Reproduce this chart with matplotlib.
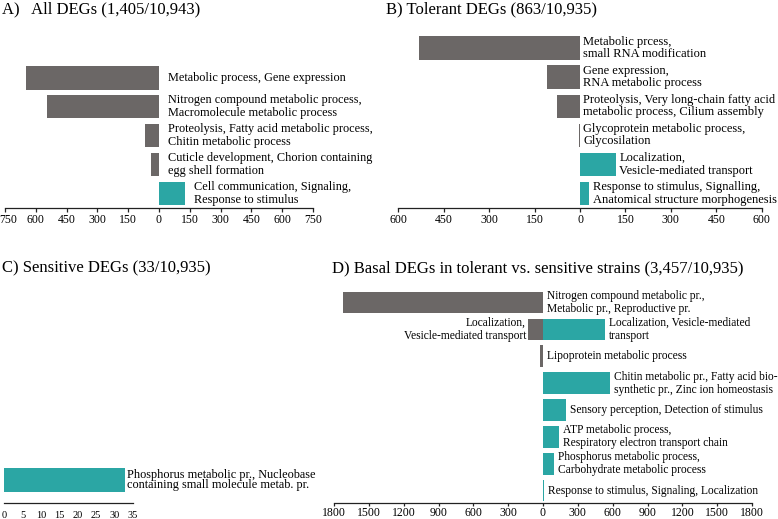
import matplotlib
matplotlib.use('Agg')
import numpy as np
import matplotlib.pyplot as plt
from matplotlib.transforms import ScaledTranslation

plt.rcParams['font.family'] = ['Liberation Serif', 'DejaVu Serif']

GREY = '#6b6766'
TEAL = '#2ba6a4'

# A) all DEGs
a_labels = ['Metabolic process, Gene expression',
            'Nitrogen compound metabolic process,\nMacromolecule metabolic process',
            'Proteolysis, Fatty acid metabolic process,\nChitin metabolic process',
            'Cuticle development, Chorion containing\negg shell formation',
            'Cell communication, Signaling,\nResponse to stimulus']
a_values = [-650, -545, -70, -40, 125]
a_ticks = [-750, -600, -450, -300, -150, 0, 150, 300, 450, 600, 750]

# B) tolerant DEGs
b_labels = ['Metabolic prcess,\nsmall RNA modification',
            'Gene expression,\nRNA metabolic process',
            'Proteolysis, Very long-chain fatty acid\nmetabolic process, Cilium assembly',
            'Glycoprotein metabolic process,\nGlycosilation',
            'Localization,\nVesicle-mediated transport',
            'Response to stimulus, Signalling,\nAnatomical structure morphogenesis']
b_values = [-533, -108, -77, -2, 118, 31]
b_ticks = [-600, -450, -300, -150, 0, 150, 300, 450, 600]

# C) sensitive DEGs
c_labels = ['Phosphorus metabolic pr., Nucleobase\ncontaining small molecule metab. pr.']
c_values = [33]
c_ticks = [0, 5, 10, 15, 20, 25, 30, 35]

# D) basal DEGs, tolerant vs sensitive
d_labels = ['Nitrogen compound metabolic pr.,\nMetabolic pr., Reproductive pr.',
            'Localization, Vesicle-mediated\ntransport',
            'Lipoprotein metabolic process',
            'Chitin metabolic pr., Fatty acid bio-\nsynthetic pr., Zinc ion homeostasis',
            'Sensory perception, Detection of stimulus',
            'ATP metabolic process,\nRespiratory electron transport chain',
            'Phosphorus metabolic process,\nCarbohydrate metabolic process',
            'Response to stimulus, Signaling, Localization']
d_left_labels = ['', 'Localization,\nVesicle-mediated transport', '', '', '', '', '', '']
d_down = [-1720, -127, -23, 0, 0, 0, 0, 0]
d_up = [0, 535, 0, 575, 196, 135, 92, 9]
d_ticks = [-1800, -1500, -1200, -900, -600, -300, 0, 300, 600, 900, 1200, 1500, 1800]

W, H = 778, 519
fig = plt.figure(figsize=(W / 100, H / 100), dpi=100)


def px_axes(left, right, top, bottom):
    return fig.add_axes([left / W, 1 - bottom / H, (right - left) / W, (bottom - top) / H])


def style(ax, ticks, lim, fs=8.5, ticklen=3, pad=1.5):
    ax.set_xlim(lim)
    ax.set_xticks(ticks)
    ax.set_xticklabels([str(abs(t)) for t in ticks], fontsize=fs)
    ax.set_yticks([])
    for s in ['top', 'left', 'right']:
        ax.spines[s].set_visible(False)
    ax.spines['bottom'].set_color('#222222')
    ax.spines['bottom'].set_linewidth(0.9)
    ax.tick_params(axis='x', length=ticklen, width=0.9, pad=pad, color='#222222')
    ax.patch.set_alpha(0)


def simple_panel(ax, labels, values, off, fs=8.8, ls=1.1):
    y = np.arange(len(values))
    cols = [GREY if v < 0 else TEAL for v in values]
    ax.barh(y, values, height=0.8, color=cols)
    for yi, v, lab in zip(y, values, labels):
        ax.annotate(lab, (max(v, 0), yi), xytext=(off, 0), textcoords='offset points',
                    ha='left', va='center', fontsize=fs, linespacing=ls)


# A
axA = px_axes(5, 313, 63.5, 208)
simple_panel(axA, a_labels, a_values, 6.5)
axA.set_ylim(len(a_values) - 0.5, -0.5)
style(axA, a_ticks, (-750, 750))
# first label sits at the left edge of the figure
first = axA.get_xticklabels()[0]
first.set_transform(first.get_transform() + ScaledTranslation(3 / 100, 0, fig.dpi_scale_trans))

# B
axB = px_axes(398.3, 761.7, 33.4, 208)
simple_panel(axB, b_labels, b_values, 2.5, fs=9.0, ls=1.05)
axB.set_ylim(len(b_values) - 0.5, -0.5)
style(axB, b_ticks, (-600, 600))

# C
axC = px_axes(4.3, 132.7, 465, 503)
simple_panel(axC, c_labels, c_values, 1.5, ls=0.75)
axC.set_ylim(0.77, -0.5)
style(axC, c_ticks, (0, 35), fs=7.5, ticklen=0, pad=6)

# D
axD = px_axes(334, 752, 289, 503)
yd = np.arange(len(d_up))
axD.barh(yd, d_down, height=0.8, color=GREY)
axD.barh(yd, d_up, height=0.8, color=TEAL)
for yi, up, dn, lab, llab in zip(yd, d_up, d_down, d_labels, d_left_labels):
    axD.annotate(lab, (up, yi), xytext=(3, 0), textcoords='offset points',
                 ha='left', va='center', fontsize=8.3, linespacing=1.1)
    if llab:
        axD.annotate(llab, (dn, yi), xytext=(-1.5, 0), textcoords='offset points',
                     ha='right', va='center', fontsize=8.3, linespacing=1.1,
                     multialignment='right')
axD.set_ylim(len(d_up) - 0.54, -0.5)
style(axD, d_ticks, (-1800, 1800), ticklen=2, pad=0.8)

# panel titles
fig.text(2 / W, 1 - 9 / H, 'A)   All DEGs (1,405/10,943)', fontsize=12, va='center')
fig.text(386 / W, 1 - 9 / H, 'B) Tolerant DEGs (863/10,935)', fontsize=12, va='center')
fig.text(2 / W, 1 - 268 / H, 'C) Sensitive DEGs (33/10,935)', fontsize=12, va='center')
fig.text(332 / W, 1 - 268 / H, 'D) Basal DEGs in tolerant vs. sensitive strains (3,457/10,935)',
         fontsize=12, va='center')

fig.savefig('out.png', dpi=100)
